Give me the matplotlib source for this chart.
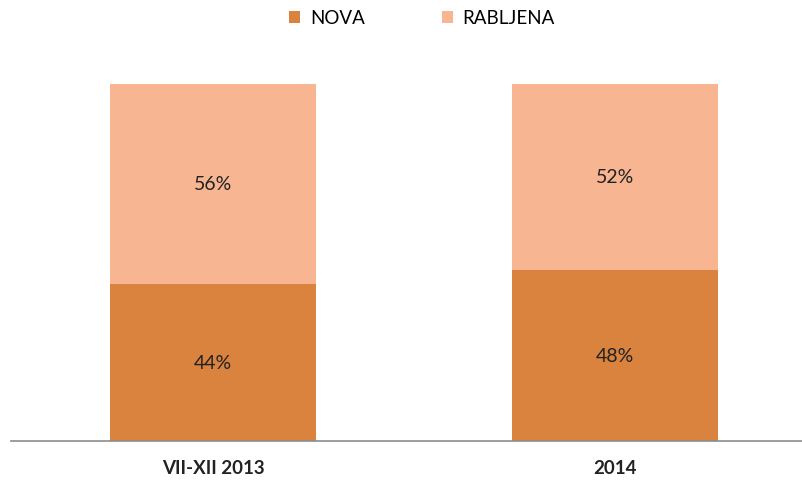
import matplotlib.pyplot as plt
import numpy as np

plt.rcParams['font.family'] = ['Lato', 'DejaVu Sans']

categories = ['VII-XII 2013', '2014']
nova = [44, 48]
rabljena = [56, 52]
series_names = ['NOVA', 'RABLJENA']
colors = ['#DA833E', '#F8B591']

fig = plt.figure(figsize=(8.02, 4.81), dpi=100)
ax = fig.add_axes([11 / 802, 1 - 442 / 481, 1 - 11 / 802, (442 - 85) / 481])

x = np.arange(len(categories))
width = 0.512
b1 = ax.bar(x, nova, width, color=colors[0], label=series_names[0])
b2 = ax.bar(x, rabljena, width, bottom=nova, color=colors[1], label=series_names[1])

for bars, vals, bottoms in [(b1, nova, [0, 0]), (b2, rabljena, nova)]:
    for rect, v, b in zip(bars, vals, bottoms):
        ax.text(rect.get_x() + rect.get_width() / 2, b + v / 2, f'{v}%',
                ha='center', va='center', fontsize=14, color='#222222')

ax.set_xlim(-0.5025, 1.465)
ax.set_ylim(0, 100)
ax.set_yticks([])
ax.set_xticks(x)
ax.set_xticklabels(categories, fontsize=13.5, fontweight='bold', color='#222222')
ax.tick_params(axis='x', length=0, pad=13)
for s in ['top', 'right', 'left']:
    ax.spines[s].set_visible(False)
ax.spines['bottom'].set_color('#8C8C8C')
ax.spines['bottom'].set_linewidth(1.2)

fig.legend(handles=[b1, b2], loc='center', bbox_to_anchor=(0.526, 1 - 19 / 481),
           ncol=2, frameon=False, fontsize=13.5, handlelength=0.6, handleheight=0.6,
           columnspacing=4.1, handletextpad=0.5)

fig.savefig('out.png', dpi=100)
